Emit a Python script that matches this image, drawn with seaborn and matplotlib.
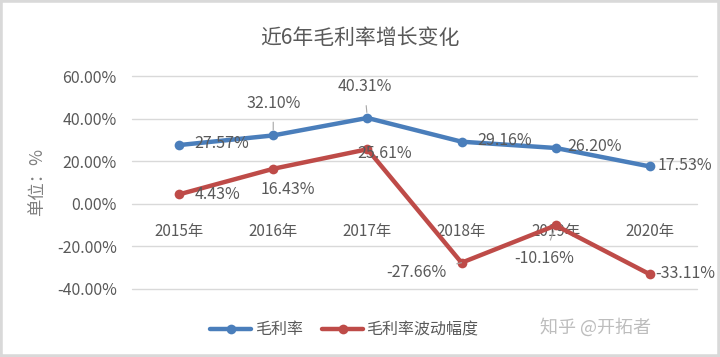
import pandas as pd
import matplotlib.pyplot as plt
from matplotlib.patches import Rectangle
from matplotlib.ticker import FuncFormatter
import seaborn as sns

# 数据
years = ["2015年", "2016年", "2017年", "2018年", "2019年", "2020年"]
gross_margin = [27.57, 32.10, 40.31, 29.16, 26.20, 17.53]
margin_change = [4.43, 16.43, 25.61, -27.66, -10.16, -33.11]
series_names = ["毛利率", "毛利率波动幅度"]

df = pd.concat([
    pd.DataFrame({"年份": years, "值": gross_margin, "指标": series_names[0]}),
    pd.DataFrame({"年份": years, "值": margin_change, "指标": series_names[1]}),
])

sns.set_theme(style="white")
plt.rcParams["font.family"] = ["Noto Sans CJK SC", "DejaVu Sans"]
txt = "#595959"

fig = plt.figure(figsize=(7.2, 3.57), dpi=100)
ax = fig.add_axes([0.1833, 0.1905, 0.7847, 0.5966])

palette = {series_names[0]: "#4a7ebb", series_names[1]: "#be4b48"}
sns.lineplot(data=df, x="年份", y="值", hue="指标", palette=palette, sort=False,
             marker="o", markersize=7, markeredgewidth=0, linewidth=3.2,
             legend=False, ax=ax)

ax.set_xlim(-0.5, 5.5)
ax.set_ylim(-40, 60)
ax.set_yticks([-40, -20, 0, 20, 40, 60])
ax.yaxis.set_major_formatter(FuncFormatter(lambda v, p: f"{v:.2f}%"))
ax.grid(axis="y", color="#d9d9d9", linewidth=1)
ax.set_axisbelow(True)
for g in ax.get_ygridlines():
    g.set_clip_on(False)
for s in ax.spines.values():
    s.set_visible(False)
ax.spines["bottom"].set_position(("data", 0))
ax.tick_params(axis="x", length=0, pad=14, labelsize=11, labelcolor=txt)
ax.tick_params(axis="y", length=0, pad=11, labelsize=11.5, labelcolor=txt)
ax.set_xlabel("")
ax.set_ylabel("单位：%", fontsize=12.5, color="#808080")
ax.yaxis.set_label_coords(-0.152, 0.5)

# 数据标签 (像素偏移)
blue_off = [(43, 2), (0, 32), (-3, 31), (43, 1), (39, 1), (35, 1)]
red_off = [(38, 0), (15, -21), (17, -4), (-45, -10), (-12, -33), (35, 1)]
blue_lead = [False, True, True, False, False, False]
red_lead = [False, False, False, True, True, False]
for vals, offs, leads in [(gross_margin, blue_off, blue_lead),
                          (margin_change, red_off, red_lead)]:
    for i, (v, o, ld) in enumerate(zip(vals, offs, leads)):
        kw = {}
        if ld:
            kw["arrowprops"] = dict(arrowstyle="-", color="#a6a6a6", lw=0.8,
                                    shrinkA=5, shrinkB=4)
        ax.annotate(f"{v:.2f}%", xy=(i, v), xytext=o, textcoords="offset pixels",
                    ha="center", va="center", fontsize=11.5, color=txt,
                    annotation_clip=False, **kw)

fig.text(0.5, 0.893, "近6年毛利率增长变化", ha="center", va="center",
         fontsize=15, color=txt)

handles = ax.get_lines()[:2]
fig.legend(handles, series_names, loc="center", bbox_to_anchor=(0.478, 0.076),
           ncol=2, frameon=False, fontsize=11.5, labelcolor=txt,
           handlelength=2.6, handletextpad=0.2, columnspacing=1.2)

fig.text(0.827, 0.083, "知乎 @开拓者", ha="center", va="center",
         fontsize=13, color="#bdbdbd")

fig.patches.append(Rectangle((0, 0), 1, 1, transform=fig.transFigure,
                             fill=False, edgecolor="#d9d9d9", linewidth=4))

fig.savefig("out.png", dpi=100, facecolor="white")
